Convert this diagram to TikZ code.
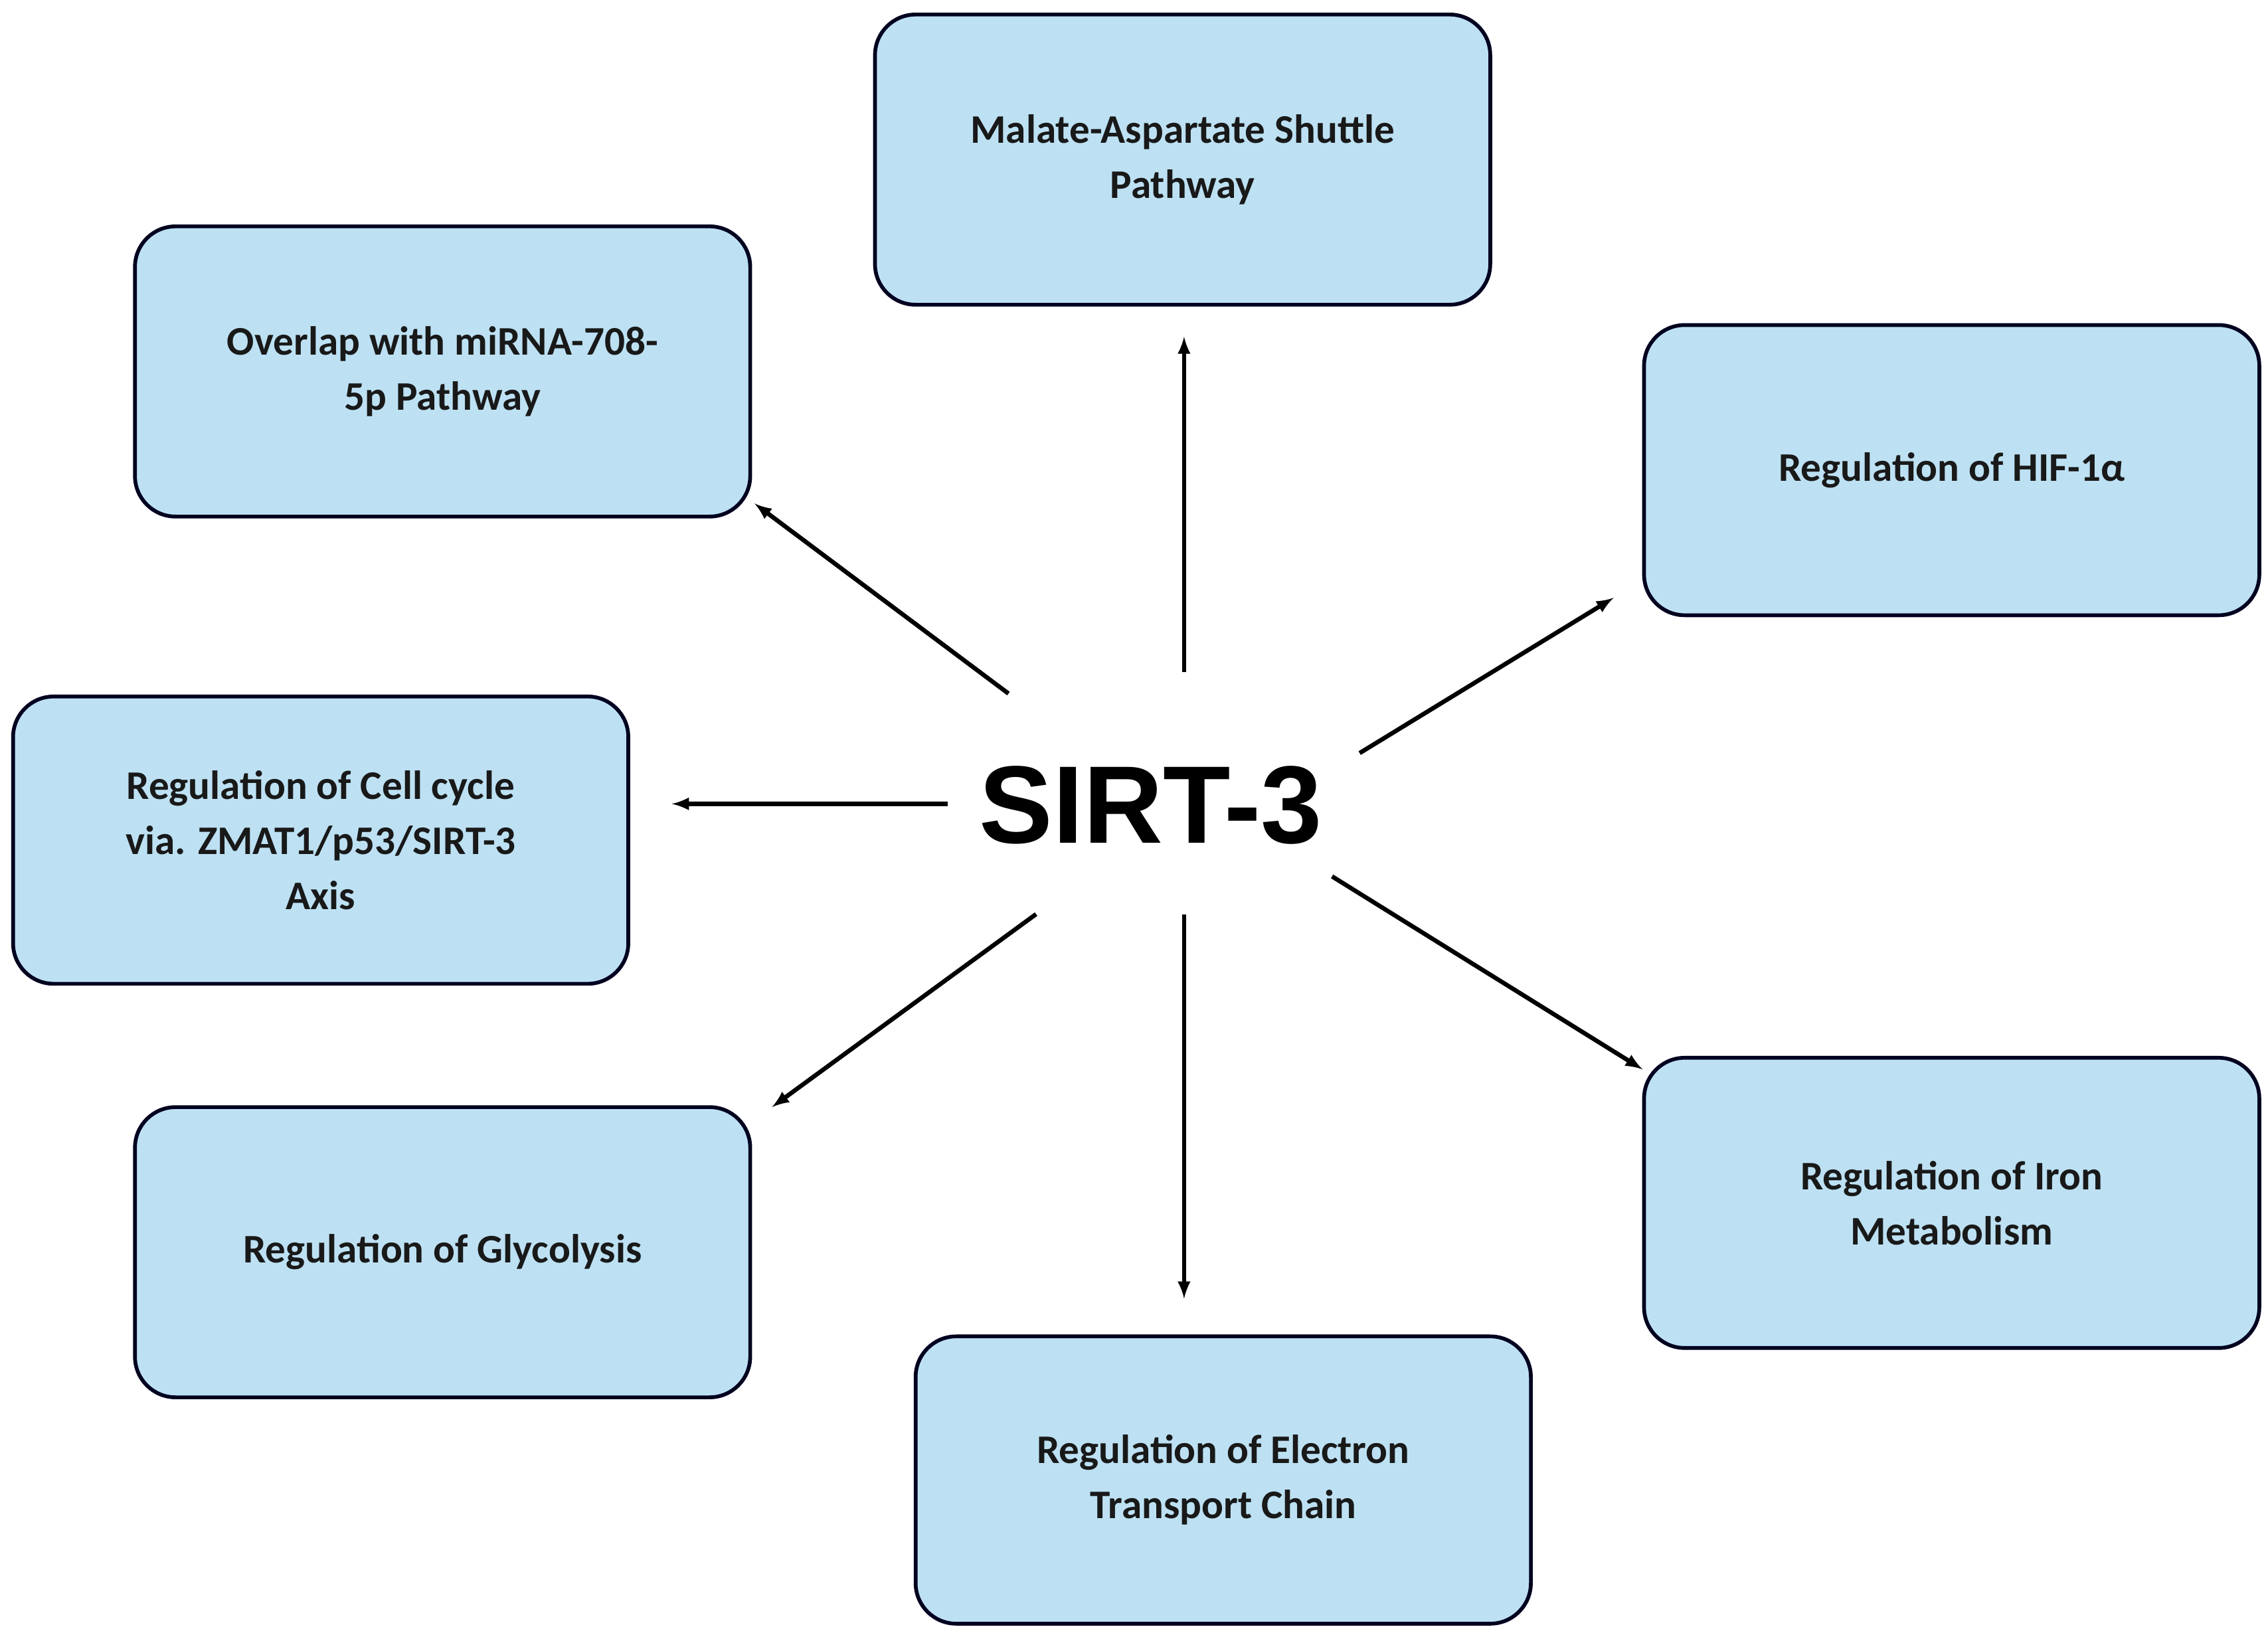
\documentclass[tikz,border=0pt]{standalone}
\usepackage{fontspec}
\setmainfont{Carlito}
\newfontfamily\hfont{Liberation Sans}
\begin{document}
\begin{tikzpicture}[x=1pt,y=-1pt,
  box/.style={draw=black!80!blue!60!black,line width=2.6pt,fill=cyan!20!blue!12!white,fill=boxfill,rounded corners=28pt,minimum width=424pt,minimum height=200pt,align=center,font=\fontsize{28}{38}\selectfont\bfseries,text=black!90},
  arr/.style={-latex,line width=3pt,shorten >=0pt}]
\definecolor{boxfill}{HTML}{BDE1F3}
\useasboundingbox (0,0) rectangle (1563,1128);
\node[box] (mas) at (815,110) {Malate-Aspartate Shuttle\\Pathway};
\node[box] (mir) at (305,256) {Overlap with miRNA-708-\\5p Pathway};
\node[box] (hif) at (1345,324) {Regulation of HIF-1α};
\node[box,minimum height=198pt] (cc) at (221,579) {Regulation of Cell cycle\\via. ZMAT1/p53/SIRT-3\\Axis};
\node[box] (gly) at (305,863) {Regulation of Glycolysis};
\node[box,minimum height=198pt] (etc) at (843,1020) {Regulation of Electron\\Transport Chain};
\node[box] (iron) at (1345,829) {Regulation of Iron\\Metabolism};
\node[font=\hfont\fontsize{76}{80}\selectfont\bfseries] (s) at (793,555) {SIRT-3};
\coordinate (a1) at (816,463); \coordinate (b1) at (816,232);
\coordinate (a2) at (695,478); \coordinate (b2) at (520,347);
\coordinate (a3) at (937,519); \coordinate (b3) at (1112,412);
\coordinate (a4) at (653,554); \coordinate (b4) at (463,554);
\coordinate (a5) at (714,630); \coordinate (b5) at (532,763);
\coordinate (a6) at (816,630); \coordinate (b6) at (816,895);
\coordinate (a7) at (918,604); \coordinate (b7) at (1132,737);
\foreach \i in {1,...,7} \draw[arr] (a\i) -- (b\i);
\end{tikzpicture}
\end{document}
